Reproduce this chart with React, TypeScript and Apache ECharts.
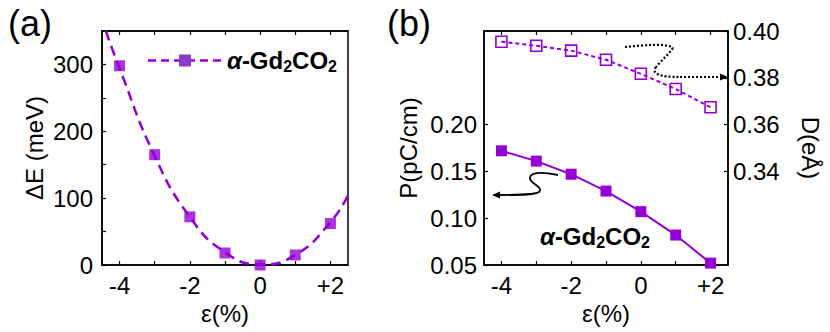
import React, { useEffect, useRef } from "react";
import * as echarts from "echarts";

// ---- data ----
const strainTicks = [-4, -3, -2, -1, 0, 1, 2];
const strainLabels = [-4, -2, 0, 2];

// panel (a)
const strainA = [-4, -3, -2, -1, 0, 1, 2];
const deltaE = [298, 165, 72, 18, 0, 15, 62];
const fitStrain = [-4.39, -4, -3, -2, -1, 0, 1, 2, 2.5];
const fitDeltaE = [350, 294, 163, 72, 19, 1, 15, 64, 104];
const eTicks = [0, 50, 100, 150, 200, 250, 300];
const eLabels = [0, 100, 200, 300];

// panel (b)
const strainB = [-4, -3, -2, -1, 0, 1, 2];
const polarP = [0.172, 0.161, 0.147, 0.129, 0.107, 0.082, 0.052];
const dipoleD = [0.3954, 0.3937, 0.3916, 0.3877, 0.3817, 0.3752, 0.3674];
const pLabels = [0.05, 0.1, 0.15, 0.2];
const dLabels = [0.34, 0.36, 0.38, 0.4];

const PURPLE = "#9400D3";
const FONT = "'Liberation Sans', Arial, Helvetica, sans-serif";
const FS = 24;

const zip = (xs: number[], ys: number[]) => xs.map((x, i) => [x, ys[i]]);

const baseText = { fontSize: FS, color: "#000", fontFamily: FONT };

function xAxis(gridIndex: number, position: "top" | "bottom", labels: boolean, name?: string) {
  return {
    type: "value",
    gridIndex,
    position,
    min: -4.5,
    max: 2.5,
    axisLine: { show: true, onZero: false, lineStyle: { color: "#000", width: 1.5 } },
    axisTick: {
      show: true,
      inside: true,
      length: 4,
      customValues: strainTicks,
      lineStyle: { color: "#000", width: 1.2 },
    },
    axisLabel: labels
      ? {
          show: true,
          customValues: strainLabels,
          formatter: (v: number) => (v > 0 ? "+" + v : String(v)),
          margin: 8,
          ...baseText,
        }
      : { show: false },
    splitLine: { show: false },
    name: name || "",
    nameLocation: "middle",
    nameGap: 33,
    nameTextStyle: baseText,
  };
}

const formula = "{i|α}{b|-Gd}{s|2}{b|CO}{s|2}";
const formulaRich = {
  i: { fontSize: FS, fontWeight: "bold", fontStyle: "italic", fontFamily: FONT, fill: "#000", color: "#000", lineHeight: 26 },
  b: { fontSize: FS, fontWeight: "bold", fontFamily: FONT, fill: "#000", color: "#000", lineHeight: 26 },
  s: { fontSize: 16, fontWeight: "bold", fontFamily: FONT, fill: "#000", color: "#000", lineHeight: 16, padding: [12, 0, 0, 0] },
};

export default function App() {
  const ref = useRef<HTMLDivElement>(null);

  useEffect(() => {
    document.body.style.margin = "0";
    if (!ref.current) return;
    const chart = echarts.init(ref.current, null, { renderer: "svg" });

    const option: any = {
      animation: false,
      backgroundColor: "#fff",
      grid: [
        { left: 102, top: 31, width: 246, height: 234, show: true, borderColor: "#000", borderWidth: 1.5 },
        { left: 484, top: 31, width: 244, height: 234, show: true, borderColor: "#000", borderWidth: 1.5 },
      ],
      xAxis: [
        xAxis(0, "bottom", true, "ε(%)"),
        xAxis(0, "top", false),
        xAxis(1, "bottom", true, "ε(%)"),
        xAxis(1, "top", false),
      ],
      yAxis: [
        {
          type: "value",
          gridIndex: 0,
          position: "left",
          min: 0,
          max: 350,
          axisLine: { show: true, onZero: false, lineStyle: { color: "#000", width: 1.5 } },
          axisTick: { show: true, inside: true, length: 4, customValues: eTicks, lineStyle: { color: "#000", width: 1.2 } },
          axisLabel: { show: true, customValues: eLabels, margin: 9, ...baseText },
          splitLine: { show: false },
          name: "ΔE (meV)",
          nameLocation: "middle",
          nameGap: 56,
          nameTextStyle: baseText,
        },
        {
          type: "value",
          gridIndex: 1,
          position: "left",
          min: 0.05,
          max: 0.3,
          axisLine: { show: true, onZero: false, lineStyle: { color: "#000", width: 1.5 } },
          axisTick: { show: true, inside: true, length: 4, customValues: pLabels, lineStyle: { color: "#000", width: 1.2 } },
          axisLabel: {
            show: true,
            customValues: pLabels,
            formatter: (v: number) => v.toFixed(2),
            margin: 7,
            ...baseText,
          },
          splitLine: { show: false },
          name: "P(pC/cm)",
          nameLocation: "middle",
          nameGap: 64,
          nameTextStyle: baseText,
        },
        {
          type: "value",
          gridIndex: 1,
          position: "right",
          min: 0.3,
          max: 0.4,
          axisLine: { show: true, onZero: false, lineStyle: { color: "#000", width: 1.5 } },
          axisTick: { show: true, inside: true, length: 4, customValues: dLabels, lineStyle: { color: "#000", width: 1.2 } },
          axisLabel: {
            show: true,
            customValues: dLabels,
            formatter: (v: number) => v.toFixed(2),
            margin: 5,
            ...baseText,
          },
          splitLine: { show: false },
          name: "D(eÅ)",
          nameLocation: "middle",
          nameRotate: -90,
          nameGap: 70,
          nameTextStyle: baseText,
        },
      ],
      series: [
        {
          type: "line",
          name: "fit",
          xAxisIndex: 0,
          yAxisIndex: 0,
          data: zip(fitStrain, fitDeltaE),
          smooth: 0.5,
          showSymbol: false,
          symbol: "none",
          lineStyle: { color: PURPLE, width: 2.5, type: [10, 6] },
          silent: true,
        },
        {
          type: "scatter",
          name: "α-Gd2CO2",
          xAxisIndex: 0,
          yAxisIndex: 0,
          data: zip(strainA, deltaE),
          symbol: "rect",
          symbolSize: 11,
          itemStyle: { color: PURPLE },
        },
        {
          type: "line",
          name: "P",
          xAxisIndex: 2,
          yAxisIndex: 1,
          data: zip(strainB, polarP),
          symbol: "rect",
          symbolSize: 11,
          lineStyle: { color: PURPLE, width: 2 },
          itemStyle: { color: PURPLE },
        },
        {
          type: "line",
          name: "D",
          xAxisIndex: 2,
          yAxisIndex: 2,
          data: zip(strainB, dipoleD),
          symbol: "rect",
          symbolSize: 11,
          lineStyle: { color: PURPLE, width: 2, type: [4, 3] },
          itemStyle: { color: "rgba(0,0,0,0)", borderColor: PURPLE, borderWidth: 1.6 },
        },
      ],
      graphic: [
        // panel labels
        { type: "text", x: 8, y: 5, style: { text: "(a)", fontSize: 36, fontFamily: FONT, fill: "#000" } },
        { type: "text", x: 387, y: 5, style: { text: "(b)", fontSize: 36, fontFamily: FONT, fill: "#000" } },
        // legend of (a)
        { type: "line", shape: { x1: 148, y1: 60.5, x2: 221, y2: 60.5 }, style: { stroke: PURPLE, lineWidth: 2.5, lineDash: [8, 5] } },
        { type: "rect", shape: { x: 179, y: 54.5, width: 12, height: 12 }, style: { fill: "#8a3cc8" } },
        {
          type: "text",
          x: 227,
          y: 60,
          style: { text: formula, rich: formulaRich, align: "left", verticalAlign: "middle", fill: "#000" },
        },
        // label in (b)
        {
          type: "text",
          x: 540,
          y: 236,
          style: { text: formula, rich: formulaRich, align: "left", verticalAlign: "middle", fill: "#000" },
        },
        // dotted arrow to right axis
        { type: "bezierCurve", shape: { x1: 625, y1: 47, cpx1: 645, cpy1: 45, cpx2: 668, cpy2: 43, x2: 673, y2: 48 }, style: { stroke: "#000", lineWidth: 2.2, lineDash: [2, 2], fill: "none" } },
        { type: "bezierCurve", shape: { x1: 673, y1: 48, cpx1: 668, cpy1: 55, cpx2: 660, cpy2: 62, x2: 656, y2: 67 }, style: { stroke: "#000", lineWidth: 2.2, lineDash: [2, 2], fill: "none" } },
        { type: "bezierCurve", shape: { x1: 656, y1: 67, cpx1: 651, cpy1: 74, cpx2: 660, cpy2: 77, x2: 680, y2: 77 }, style: { stroke: "#000", lineWidth: 2.2, lineDash: [2, 2], fill: "none" } },
        { type: "line", shape: { x1: 680, y1: 77, x2: 721, y2: 77 }, style: { stroke: "#000", lineWidth: 2.2, lineDash: [2, 2] } },
        { type: "polygon", shape: { points: [[720, 73.5], [728, 77], [720, 80.5]] }, style: { fill: "#000" } },
        // solid arrow to left axis
        { type: "bezierCurve", shape: { x1: 558, y1: 175, cpx1: 548, cpy1: 173, cpx2: 532, cpy2: 171, x2: 530, y2: 177 }, style: { stroke: "#000", lineWidth: 1.8, fill: "none" } },
        { type: "bezierCurve", shape: { x1: 530, y1: 177, cpx1: 528, cpy1: 183, cpx2: 542, cpy2: 186, x2: 540, y2: 191 }, style: { stroke: "#000", lineWidth: 1.8, fill: "none" } },
        { type: "bezierCurve", shape: { x1: 540, y1: 191, cpx1: 538, cpy1: 195, cpx2: 520, cpy2: 195, x2: 500, y2: 195 }, style: { stroke: "#000", lineWidth: 1.8, fill: "none" } },
        { type: "polygon", shape: { points: [[500, 191.5], [492, 195], [500, 198.5]] }, style: { fill: "#000" } },
      ],
    };

    chart.setOption(option);
    return () => chart.dispose();
  }, []);

  return <div ref={ref} style={{ width: 830, height: 332 }} />;
}
